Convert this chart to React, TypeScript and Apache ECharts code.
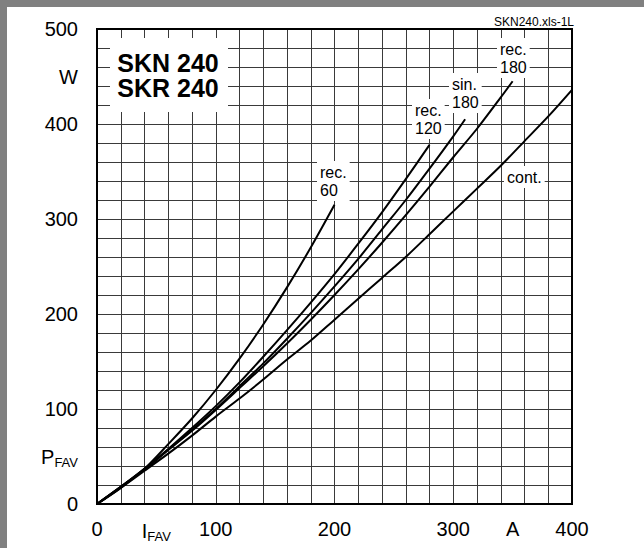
import React, { useEffect, useRef } from 'react';
import * as echarts from 'echarts';

// ---- data (I_FAV in A, P_FAV in W) ----
const rec60Current = [0, 20, 40, 60, 80, 100, 120, 140, 160, 180, 200];
const rec60Power = [0, 17, 37, 63, 90, 120, 153, 189, 228, 270, 315];

const rec120Current = [0, 20, 40, 60, 80, 100, 120, 140, 160, 180, 200, 220, 240, 260, 280];
const rec120Power = [0, 18, 37, 58, 80, 103, 128, 155, 183, 212, 242, 274, 307, 342, 378];

const sin180Current = [0, 20, 40, 60, 80, 100, 120, 140, 160, 180, 200, 220, 240, 260, 280, 300, 310];
const sin180Power = [0, 18, 36, 57, 78, 100, 124, 148, 174, 201, 229, 258, 289, 320, 353, 387, 405];

const rec180Current = [0, 20, 40, 60, 80, 100, 120, 140, 160, 180, 200, 220, 240, 260, 280, 300, 320, 340, 350];
const rec180Power = [0, 18, 37, 57, 77, 99, 122, 145, 169, 194, 220, 247, 275, 304, 334, 365, 395, 428, 445];

const contCurrent = [0, 20, 40, 60, 80, 100, 120, 140, 160, 180, 200, 220, 240, 260, 280, 300, 320, 340, 360, 380, 400];
const contPower = [0, 17, 35, 53, 72, 92, 111, 131, 152, 172, 194, 216, 238, 260, 284, 308, 332, 356, 382, 408, 436];

const currentTicks = [0, 50, 100, 150, 200, 250, 300, 350, 400];
const currentTickLabels = ['0', '{m|I}{s|FAV}', '100', '', '200', '', '300', 'A', '400'];
const powerTicks = [0, 50, 100, 150, 200, 250, 300, 350, 400, 450, 500];
const powerTickLabels = ['0', '{m|P}{s|FAV}', '100', '', '200', '', '300', '', '400', 'W', '500'];

const curveNames = ['rec. 60', 'rec. 120', 'sin. 180', 'rec. 180', 'cont.'];

const FONT = '"Liberation Sans", Arial, Helvetica, sans-serif';

function zip(xs: number[], ys: number[]) {
  return xs.map((x, i) => [x, ys[i]]);
}

export default function App() {
  const ref = useRef<HTMLDivElement>(null);
  useEffect(() => {
    if (!ref.current) return;
    const chart = echarts.init(ref.current, undefined, { renderer: 'svg' });
    const curves = [
      zip(rec60Current, rec60Power),
      zip(rec120Current, rec120Power),
      zip(sin180Current, sin180Power),
      zip(rec180Current, rec180Power),
      zip(contCurrent, contPower),
    ];
    const rich = {
      m: { fontSize: 20, fontFamily: FONT, color: '#000', lineHeight: 24 },
      s: { fontSize: 13, fontFamily: FONT, color: '#000', lineHeight: 13, verticalAlign: 'bottom' as const },
    };
    const labelText = (text: string, x: number, y: number) => ({
      type: 'text',
      x,
      y,
      z: 50,
      style: {
        text,
        fill: '#000',
        font: '16px ' + FONT,
        textAlign: 'left',
        textVerticalAlign: 'top',
        lineHeight: 18,
        backgroundColor: '#fff',
        padding: [2, 3, 2, 3],
      },
    });
    chart.setOption({
      animation: false,
      backgroundColor: '#fff',
      grid: { left: 97, top: 29, width: 475, height: 475, containLabel: false },
      xAxis: [
        {
          type: 'value', min: 0, max: 400, interval: 20,
          axisLine: { show: false }, axisTick: { show: false }, axisLabel: { show: false },
          splitLine: { show: true, lineStyle: { color: '#3a3a3a', width: 1 } },
        },
        {
          type: 'value', min: 0, max: 400, interval: 50, position: 'bottom',
          axisLine: { show: false }, axisTick: { show: false }, splitLine: { show: false },
          axisLabel: {
            show: true, margin: 15, fontSize: 20, fontFamily: FONT, color: '#000',
            formatter: (v: number) => {
              const i = currentTicks.indexOf(Math.round(v));
              return i >= 0 ? currentTickLabels[i] : '';
            },
            rich,
          },
        },
      ],
      yAxis: [
        {
          type: 'value', min: 0, max: 500, interval: 20,
          axisLine: { show: false }, axisTick: { show: false }, axisLabel: { show: false },
          splitLine: { show: true, lineStyle: { color: '#3a3a3a', width: 1 } },
        },
        {
          type: 'value', min: 0, max: 500, interval: 50, position: 'left',
          axisLine: { show: false }, axisTick: { show: false }, splitLine: { show: false },
          axisLabel: {
            show: true, margin: 19, fontSize: 20, fontFamily: FONT, color: '#000',
            formatter: (v: number) => {
              const i = powerTicks.indexOf(Math.round(v));
              return i >= 0 ? powerTickLabels[i] : '';
            },
            rich,
          },
        },
      ],
      series: curves.map((data, k) => ({
        name: curveNames[k],
        type: 'line',
        xAxisIndex: 0,
        yAxisIndex: 0,
        data,
        smooth: 0.3,
        showSymbol: false,
        silent: true,
        z: 5,
        lineStyle: { color: '#000', width: 2 },
      })),
      graphic: [
        { type: 'rect', shape: { x: 0, y: 0, width: 644, height: 7 }, style: { fill: '#808080' }, z: 100 },
        { type: 'rect', shape: { x: 0, y: 0, width: 7, height: 548 }, style: { fill: '#808080' }, z: 100 },
        { type: 'rect', shape: { x: 97, y: 29, width: 475, height: 475 }, style: { fill: 'none', stroke: '#000', lineWidth: 2 }, z: 90 },
        { type: 'rect', shape: { x: 110, y: 38, width: 118, height: 74 }, style: { fill: '#fff' }, z: 40 },
        {
          type: 'text', x: 168, y: 50, z: 50,
          style: { text: 'SKN 240\nSKR 240', fill: '#000', font: 'bold 25px ' + FONT, textAlign: 'center', textVerticalAlign: 'top', lineHeight: 25.5 },
        },
        {
          type: 'text', x: 574, y: 22, z: 50,
          style: { text: 'SKN240.xls-1L', fill: '#000', font: '12px ' + FONT, textAlign: 'right', textVerticalAlign: 'middle' },
        },
        labelText('rec.\n60', 317, 161),
        labelText('rec.\n120', 412, 99),
        labelText('sin.\n180', 449, 73),
        labelText('rec.\n180', 497, 38),
        labelText('cont.', 504, 166),
      ],
    });
    return () => chart.dispose();
  }, []);
  return (
    <div
      ref={ref}
      style={{ position: 'absolute', left: 0, top: 0, width: 644, height: 548, background: '#fff' }}
    />
  );
}
